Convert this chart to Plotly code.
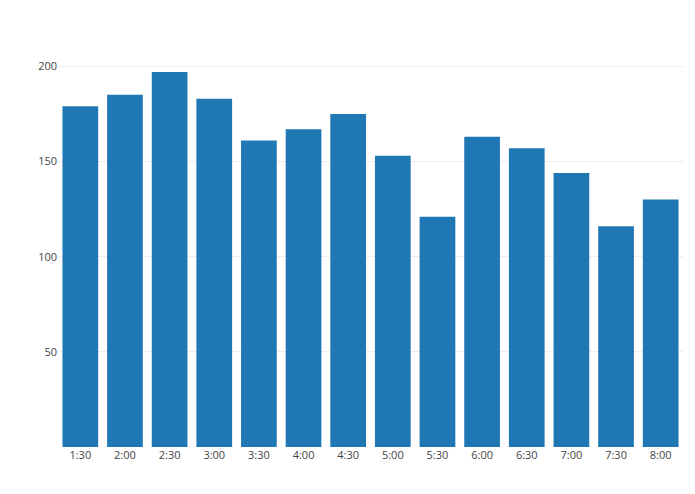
import plotly.graph_objects as go

categories = ["1:30","2:00","2:30","3:00","3:30","4:00","4:30","5:00","5:30","6:00","6:30","7:00","7:30","8:00"]
values = [179,185,197,183,161,167,175,153,121,163,157,144,116,130]

fig = go.Figure(go.Bar(x=categories, y=values, marker_color="#1f77b4"))
fig.update_layout(
    template="none", width=695, height=494,
    margin=dict(l=50, r=20, t=45, b=55),
    font=dict(family="Open Sans", size=11, color="#444"),
    plot_bgcolor="white", paper_bgcolor="white", bargap=0.2,
    showlegend=False,
)
fig.update_yaxes(range=[0, 207], tickvals=[50,100,150,200], gridcolor="#eee", zeroline=False, showline=False)
fig.update_xaxes(showgrid=False, showline=False, zeroline=False)
fig.write_html("out.html")
